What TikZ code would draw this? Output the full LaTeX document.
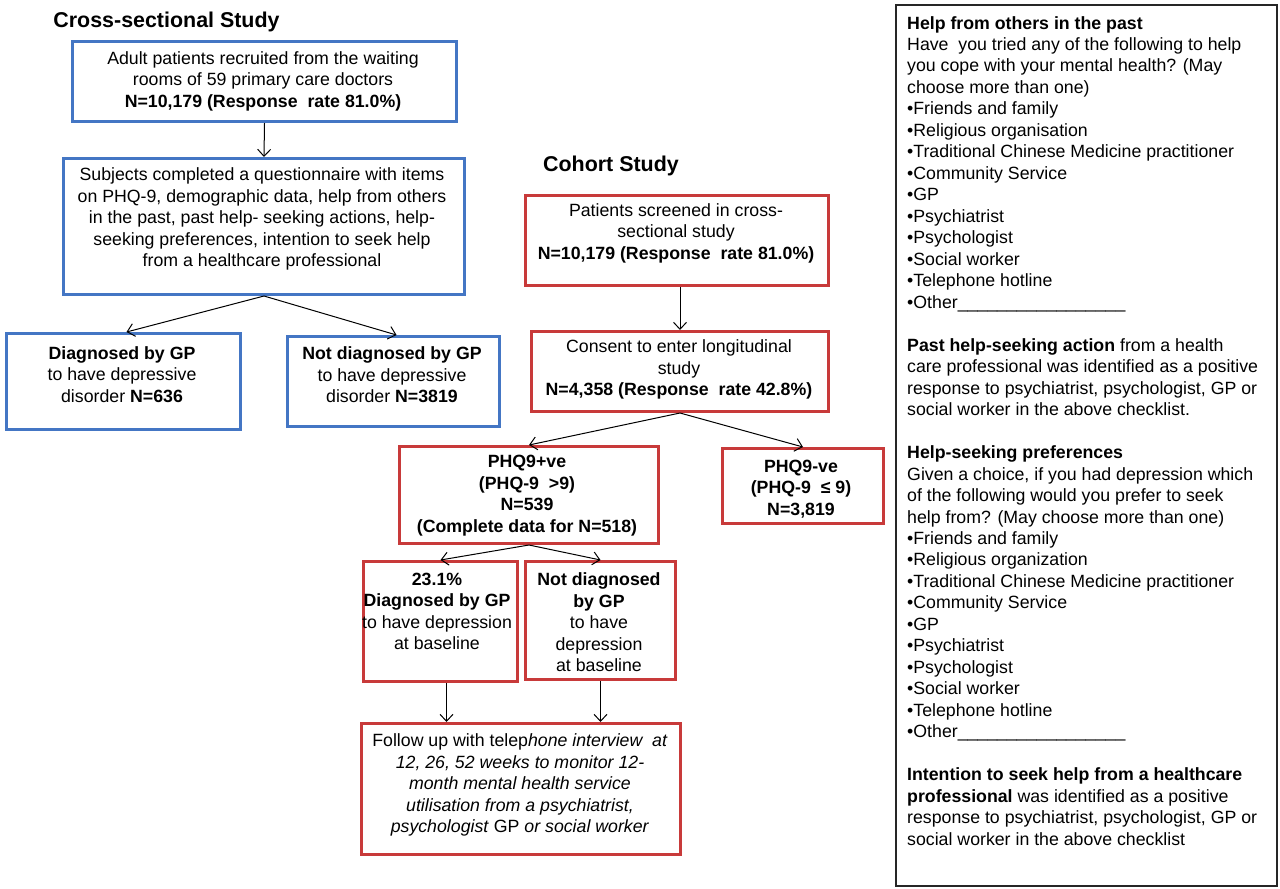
\documentclass[tikz,border=0pt]{standalone}
\usepackage{fontspec}
\setmainfont{Liberation Sans}
\usetikzlibrary{arrows.meta}
\definecolor{bxblue}{RGB}{68,118,196}
\definecolor{bxred}{RGB}{200,58,58}
\begin{document}
\begin{tikzpicture}[x=1bp,y=-1bp,
  bluebox/.style={draw=bxblue,line width=3bp,rectangle,inner sep=0pt,anchor=north west},
  redbox/.style={draw=bxred,line width=3bp,rectangle,inner sep=0pt,anchor=north west},
  txt/.style={font=\fontsize{17.8}{21.55}\selectfont,align=center,inner sep=0pt},
  ttl/.style={font=\fontsize{21.5}{26}\selectfont\bfseries,inner sep=0pt},
  arr/.style={-{Straight Barb[length=7bp,width=13bp]},line width=1bp,black}]
\useasboundingbox (0,0) rectangle (1280,889);

% titles
\node[ttl] (t1) at (166.5,22) {Cross-sectional Study};
\node[ttl] (t2) at (611,166) {Cohort Study};

% cross-sectional boxes
\node[bluebox,minimum width=384bp,minimum height=80bp] (b1) at (71,40) {};
\node[bluebox,minimum width=401bp,minimum height=136bp] (b2) at (62,157) {};
\node[bluebox,minimum width=234bp,minimum height=96bp] (b3) at (5,332) {};
\node[bluebox,minimum width=212bp,minimum height=90bp] (b4) at (286,335) {};

\node[txt] (x1) at (263,81) {Adult patients recruited from the waiting\\rooms of 59 primary care doctors\\\textbf{N=10,179 (Response\ \ rate 81.0\%)}};
\node[txt] (x2) at (262,219) {Subjects completed a questionnaire with items\\on PHQ-9, demographic data, help from others\\in the past, past help- seeking actions, help-\\seeking preferences, intention to seek help\\from a healthcare professional};
\node[txt] (x3) at (122,374.5) {\textbf{Diagnosed by GP}\\to have depressive\\disorder \textbf{N=636}};
\node[txt] (x4) at (392,375) {\textbf{Not diagnosed by GP}\\to have depressive\\disorder \textbf{N=3819}};

% cohort boxes
\node[redbox,minimum width=303bp,minimum height=90bp] (r1) at (524,194) {};
\node[redbox,minimum width=297bp,minimum height=80bp] (r2) at (530,330) {};
\node[redbox,minimum width=259bp,minimum height=97bp] (r3) at (398,445) {};
\node[redbox,minimum width=161bp,minimum height=75bp] (r4) at (721,447) {};
\node[redbox,minimum width=154bp,minimum height=120bp] (r5) at (362,560) {};
\node[redbox,minimum width=150bp,minimum height=118bp] (r6) at (524,560) {};
\node[redbox,minimum width=319bp,minimum height=131bp] (r7) at (360,722) {};

\node[txt] (y1) at (676,233) {Patients screened in cross-\\sectional study\\\textbf{N=10,179 (Response\ \ rate 81.0\%)}};
\node[txt] (y2) at (679,369.5) {Consent to enter longitudinal\\study\\\textbf{N=4,358 (Response\ \ rate 42.8\%)}};
\node[txt,font=\fontsize{17.8}{21.55}\selectfont\bfseries] (y3) at (527,495.5) {PHQ9+ve\\(PHQ-9\ \ >9)\\N=539\\(Complete data for N=518)};
\node[txt,font=\fontsize{17.8}{21.55}\selectfont\bfseries] (y4) at (801,489) {PHQ9-ve\\(PHQ-9\ \ ≤ 9)\\N=3,819};
\node[txt] (y5) at (437,611.5) {\textbf{23.1\%}\\\textbf{Diagnosed by GP}\\to have depression\\at baseline};
\node[txt] (y6) at (599,622.5) {\textbf{Not diagnosed}\\\textbf{by GP}\\to have\\depression\\at baseline};
\node[txt] (y7) at (520,785) {Follow up with telep\textit{hone interview\ \ at}\\\textit{12, 26, 52 weeks to monitor 12-}\\\textit{month mental health service}\\\textit{utilisation from a psychiatrist,}\\\textit{psychologist} GP \textit{or social worker}};

% right-hand panel
\node[draw=black!85,line width=1.5bp,rectangle,inner sep=0pt,anchor=north west,minimum width=381bp,minimum height=881bp] (rb) at (895,4) {};
\node[font=\fontsize{17.8}{21.55}\selectfont,align=left,inner sep=0pt,anchor=north west] (rt) at (907,16) {%
\textbf{Help from others in the past}\\
Have\ \ you tried any of the following to help\\
you cope with your mental health? (May\\
choose more than one)\\
•Friends and family\\
•Religious organisation\\
•Traditional Chinese Medicine practitioner\\
•Community Service\\
•GP\\
•Psychiatrist\\
•Psychologist\\
•Social worker\\
•Telephone hotline\\
•Other\_\_\_\_\_\_\_\_\_\_\_\_\_\_\_\_\_\\[21.55bp]
\textbf{Past help-seeking action} from a health\\
care professional was identified as a positive\\
response to psychiatrist, psychologist, GP or\\
social worker in the above checklist.\\[21.55bp]
\textbf{Help-seeking preferences}\\
Given a choice, if you had depression which\\
of the following would you prefer to seek\\
help from? (May choose more than one)\\
•Friends and family\\
•Religious organization\\
•Traditional Chinese Medicine practitioner\\
•Community Service\\
•GP\\
•Psychiatrist\\
•Psychologist\\
•Social worker\\
•Telephone hotline\\
•Other\_\_\_\_\_\_\_\_\_\_\_\_\_\_\_\_\_\\[21.55bp]
\textbf{Intention to seek help from a healthcare}\\
\textbf{professional} was identified as a positive\\
response to psychiatrist, psychologist, GP or\\
social worker in the above checklist};

% connectors
\draw[arr] (b1.south) -- (b2.north);
\draw[arr] (b2.south) -- ([xshift=3bp]b3.north);
\draw[arr] (b2.south) -- ([xshift=3bp]b4.north);
\draw[arr] (r2.north |- r1.south) -- (r2.north);
\draw[arr] (r2.south) -- (r3.north);
\draw[arr] (r2.south) -- (r4.north);
\draw[arr] (r3.south) -- (r5.north);
\draw[arr] (r3.south) -- (r6.north);
\draw[arr] ([xshift=6bp]r5.south) -- ([xshift=6bp]r5.south |- r7.north);
\draw[arr] (r6.south) -- (r6.south |- r7.north);
\end{tikzpicture}
\end{document}
